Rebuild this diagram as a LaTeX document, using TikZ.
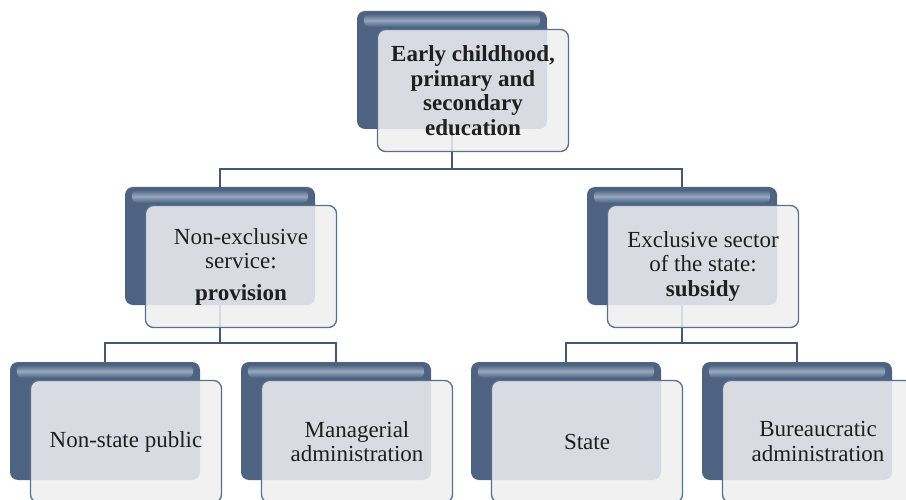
\documentclass[tikz,border=0pt]{standalone}
\usepackage{fontspec}
\setmainfont{Liberation Serif}
\usetikzlibrary{calc}
\pgfdeclarelayer{paper}
\pgfdeclarelayer{bg}
\pgfsetlayers{paper,bg,main}
\definecolor{boxblue}{HTML}{4E6382}
\definecolor{hlblue}{HTML}{98A9BF}
\definecolor{frontgray}{HTML}{EFEFF1}
\definecolor{edgeblue}{HTML}{56708F}
\definecolor{linkblue}{HTML}{425874}
\newcommand\boxfont{\fontsize{23}{24.5}\selectfont}
\newcommand\backhl[1]{%
  \shade[top color=boxblue, bottom color=boxblue, middle color=hlblue, rounded corners=5pt]
    ($(#1.north west)+(7,3)$) rectangle ($(#1.north east)+(-7,16)$);}
\tikzset{
  backbox/.style={rectangle, rounded corners=8pt, minimum width=190pt, minimum height=118pt,
    fill=boxblue, inner sep=0pt},
  frontbox/.style={rectangle, rounded corners=8pt, minimum width=191pt, minimum height=122pt,
    fill=frontgray, fill opacity=0.86, text opacity=1, draw=edgeblue, line width=1.3pt,
    align=center, font=\boxfont, inner sep=0pt, text=black!88},
  link/.style={draw=linkblue, line width=2pt},
}
\begin{document}
\begin{tikzpicture}[x=1pt,y=-1pt]
\clip (0,0) rectangle (906,500);
\begin{pgfonlayer}{paper}
\fill[white] (0,0) rectangle (906,500);
\end{pgfonlayer}
% back boxes
\node[backbox] (topb) at (452,70) {};
\node[backbox] (mlb) at (220,246) {};
\node[backbox] (mrb) at (682,246) {};
\node[backbox] (b1b) at (105,421) {};
\node[backbox] (b2b) at (336,421) {};
\node[backbox] (b3b) at (566,421) {};
\node[backbox] (b4b) at (797,421) {};
\foreach \n in {topb,mlb,mrb,b1b,b2b,b3b,b4b} {\backhl{\n}}
% front boxes
\node[frontbox] (topf) at ($(topb)+(21,20.5)$) {\textbf{Early childhood,}\\\textbf{primary and}\\\textbf{secondary}\\\textbf{education}};
\node[frontbox] (mlf) at ($(mlb)+(21,20.5)$) {Non-exclusive\\service:\\[7pt]\textbf{provision}};
\node[frontbox] (mrf) at ($(mrb)+(21,20.5)$) {Exclusive sector\\of the state:\\\textbf{subsidy}};
\node[frontbox] (b1f) at ($(b1b)+(21,20.5)$) {Non-state public};
\node[frontbox] (b2f) at ($(b2b)+(21,20.5)$) {Managerial\\administration};
\node[frontbox] (b3f) at ($(b3b)+(21,20.5)$) {State};
\node[frontbox] (b4f) at ($(b4b)+(21,20.5)$) {Bureaucratic\\administration};
% connectors
\coordinate (bus1) at (0,169);
\coordinate (bus2) at (0,343);
\begin{pgfonlayer}{bg}
\draw[link] (topb.south) -- (topb.south |- bus1) -| (mlb.north);
\draw[link] (topb.south |- bus1) -| (mrb.north);
\draw[link] (mlb.south) -- (mlb.south |- bus2) -| (b1b.north);
\draw[link] (mlb.south |- bus2) -| (b2b.north);
\draw[link] (mrb.south) -- (mrb.south |- bus2) -| (b3b.north);
\draw[link] (mrb.south |- bus2) -| (b4b.north);
\end{pgfonlayer}
\end{tikzpicture}
\end{document}
